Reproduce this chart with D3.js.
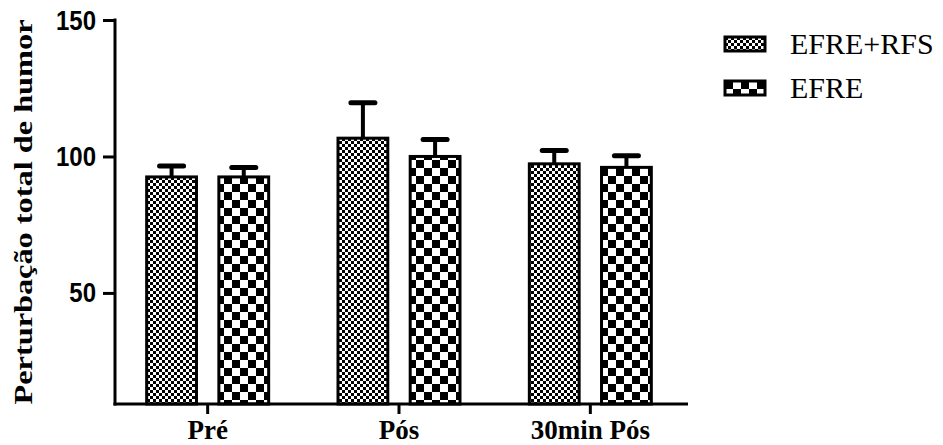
<!DOCTYPE html>
<html>
<head>
<meta charset="utf-8">
<script src="https://cdn.jsdelivr.net/npm/d3@7"></script>
<style>
  body { margin: 0; background: #fff; }
  svg { display: block; }
</style>
</head>
<body>
<svg id="chart" width="943" height="445"></svg>
<script>
// Data
let categories = ["Pré", "Pós", "30min Pós"];
let series = ["EFRE+RFS", "EFRE"];
let means = [[92.5, 92.5], [106.7, 100.0], [97.3, 96.0]];
let errors = [[4.0, 3.5], [13.0, 6.2], [4.9, 4.3]];
let yTicks = [50, 100, 150];

let serif = "Liberation Serif, serif";
let sans = "Liberation Sans, sans-serif";

let svg = d3.select("#chart");

let y = d3.scaleLinear().domain([9.3, 150]).range([404, 20]);
let x = d3.scaleBand().domain(categories).range([112, 686]);
let xs = d3.scaleBand().domain(series).range([-61, 61]).paddingInner(0.31);

// Checker patterns: fine for EFRE+RFS, coarse for EFRE
let defs = svg.append("defs");
function checker(id, cell) {
    let p = defs.append("pattern")
        .attr("id", id)
        .attr("patternUnits", "userSpaceOnUse")
        .attr("width", cell * 2)
        .attr("height", cell * 2);
    p.append("rect").attr("width", cell * 2).attr("height", cell * 2).attr("fill", "#fff");
    p.append("rect").attr("width", cell).attr("height", cell).attr("fill", "#000");
    p.append("rect").attr("x", cell).attr("y", cell).attr("width", cell).attr("height", cell).attr("fill", "#000");
}
checker("fine", 3);
checker("coarse", 8);
let fills = ["url(#fine)", "url(#coarse)"];

let rows = [];
categories.forEach((c, i) => {
    series.forEach((s, j) => {
        rows.push({ cat: c, ser: s, j: j, v: means[i][j], e: errors[i][j] });
    });
});

function cx(d) {
    return x(d.cat) + x.bandwidth() / 2 + xs(d.ser) + xs.bandwidth() / 2;
}

let groups = svg.append("g");

// Error bars (drawn first so bars cover the stem bottom)
groups.selectAll("line.stem")
    .data(rows)
    .enter()
    .append("line")
    .attr("x1", cx)
    .attr("x2", cx)
    .attr("y1", d => y(d.v))
    .attr("y2", d => y(d.v + d.e))
    .attr("stroke", "#000")
    .attr("stroke-width", 4);
groups.selectAll("line.cap")
    .data(rows)
    .enter()
    .append("line")
    .attr("x1", d => cx(d) - 12)
    .attr("x2", d => cx(d) + 12)
    .attr("y1", d => y(d.v + d.e))
    .attr("y2", d => y(d.v + d.e))
    .attr("stroke", "#000")
    .attr("stroke-width", 5)
    .attr("stroke-linecap", "round");

groups.selectAll("rect.bar")
    .data(rows)
    .enter()
    .append("rect")
    .attr("x", d => x(d.cat) + x.bandwidth() / 2 + xs(d.ser))
    .attr("y", d => y(d.v))
    .attr("width", xs.bandwidth())
    .attr("height", d => y(9.3) - y(d.v))
    .attr("fill", d => fills[d.j])
    .attr("stroke", "#000")
    .attr("stroke-width", 3);

// Y axis
let yAxis = svg.append("g")
    .attr("transform", "translate(115,0)")
    .call(d3.axisLeft(y).tickValues(yTicks).tickSize(12).tickSizeOuter(0).tickPadding(4));
yAxis.select(".domain").remove();
yAxis.selectAll(".tick line").attr("stroke", "#000").attr("stroke-width", 3);
yAxis.selectAll(".tick text")
    .attr("font-family", sans)
    .attr("font-weight", "bold")
    .attr("font-size", 24)
    .attr("dy", null)
    .attr("y", 0)
    .attr("transform", "translate(-3,9) scale(1,1.15)")
    .attr("fill", "#000");
svg.append("line")
    .attr("x1", 115).attr("x2", 115)
    .attr("y1", y(150) - 1.5).attr("y2", y(9.3) + 1.5)
    .attr("stroke", "#000").attr("stroke-width", 3);

// X axis
let xAxis = svg.append("g")
    .attr("transform", "translate(0,404)")
    .call(d3.axisBottom(x).tickSize(10).tickSizeOuter(0));
xAxis.select(".domain").remove();
xAxis.selectAll(".tick line").attr("stroke", "#000").attr("stroke-width", 3);
xAxis.selectAll(".tick text")
    .attr("font-family", serif)
    .attr("font-weight", "bold")
    .attr("font-size", 27)
    .attr("dy", null)
    .attr("y", 35)
    .attr("fill", "#000");
svg.append("line")
    .attr("x1", 113.5).attr("x2", 688)
    .attr("y1", 404).attr("y2", 404)
    .attr("stroke", "#000").attr("stroke-width", 3);

// Y title
svg.append("text")
    .attr("transform", "translate(32,212) rotate(-90)")
    .attr("text-anchor", "middle")
    .attr("font-family", serif)
    .attr("font-weight", "bold")
    .attr("font-size", 26)
    .attr("textLength", 385)
    .attr("lengthAdjust", "spacingAndGlyphs")
    .text("Perturbação total de humor");

// Legend
let legend = svg.append("g")
    .selectAll("g")
    .data(series)
    .enter()
    .append("g")
    .attr("transform", (d, i) => `translate(725,${37 + i * 44})`);
legend.append("rect")
    .attr("width", 40)
    .attr("height", 14)
    .attr("fill", (d, i) => fills[i])
    .attr("stroke", "#000")
    .attr("stroke-width", 3);
legend.append("text")
    .attr("x", 65)
    .attr("y", 17)
    .attr("font-family", serif)
    .attr("font-size", 30)
    .text(d => d);
</script>
</body>
</html>
